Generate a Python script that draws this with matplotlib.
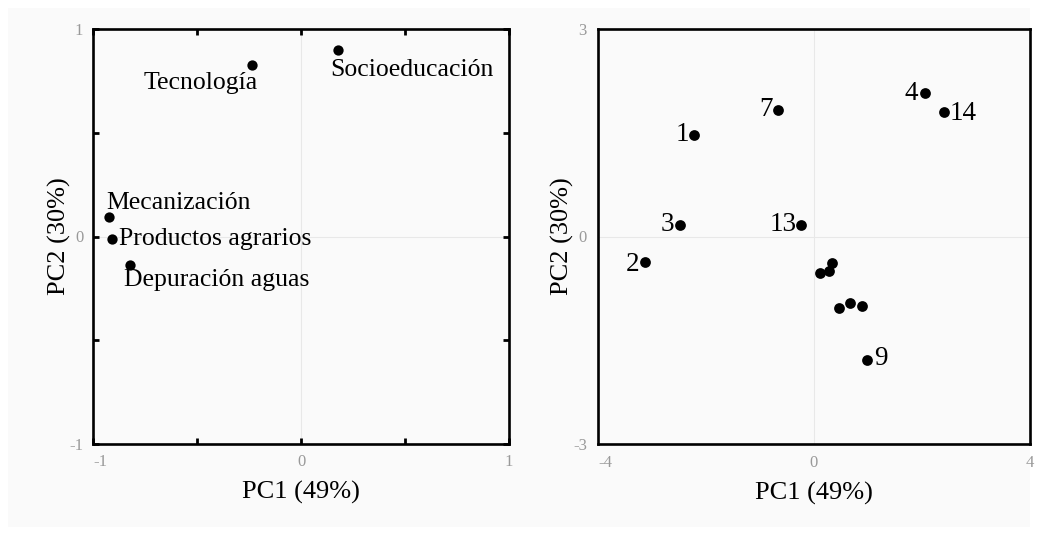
import matplotlib
matplotlib.use("Agg")
import matplotlib.pyplot as plt
from matplotlib.patches import Rectangle

# ---- Data ----
var_names = ["Tecnología", "Socioeducación", "Mecanización", "Productos agrarios", "Depuración aguas"]
var_pc1 = [-0.236, 0.178, -0.923, -0.909, -0.822]
var_pc2 = [0.827, 0.899, 0.094, -0.012, -0.137]

obs_labels = ["1", "2", "3", "4", "", "", "7", "", "9", "", "", "", "13", "14"]
obs_pc1 = [-2.22, -3.13, -2.48, 2.06, 0.11, 0.28, -0.67, 0.33, 0.98, 0.46, 0.67, 0.89, -0.24, 2.41]
obs_pc2 = [1.47, -0.37, 0.17, 2.07, -0.53, -0.50, 1.83, -0.38, -1.79, -1.03, -0.96, -1.00, 0.17, 1.80]

left_ticks = [-1, -0.5, 0, 0.5, 1]
left_ticklabels = ["-1", "", "0", "", "1"]
right_xticks = [-4, 0, 4]
right_xticklabels = ["-4", "0", "4"]
right_yticks = [-3, 0, 3]
right_yticklabels = ["-3", "0", "3"]

xlabel = "PC1 (49%)"
ylabel = "PC2 (30%)"

# label offsets (pixels) and alignments
var_offsets = {
    "Tecnología": (6, -7, "right", "top"),
    "Socioeducación": (-8, -9, "left", "top"),
    "Mecanización": (-3, 3, "left", "bottom"),
    "Productos agrarios": (7, 0, "left", "center"),
    "Depuración aguas": (-6, -4, "left", "top"),
}
obs_offsets = {
    "1": (-5, 0, "right", "center"),
    "2": (-6, -2, "right", "center"),
    "3": (-6, 0, "right", "center"),
    "4": (-7, 0, "right", "center"),
    "7": (-5, 0, "right", "center"),
    "9": (7, 2, "left", "center"),
    "13": (-4, 0, "right", "center"),
    "14": (5, -1, "left", "center"),
}

serif = ["Liberation Serif", "DejaVu Serif"]
plt.rcParams["font.family"] = serif

fig = plt.figure(figsize=(10.38, 5.35), dpi=100, facecolor="white")
W, H = 1038, 535
fig.patches.append(Rectangle((8 / W, 8 / H), (1030 - 8) / W, (527 - 8) / H,
                             transform=fig.transFigure, facecolor="#fafafa",
                             edgecolor="none", zorder=-10))

ax1 = fig.add_axes([93 / W, 1 - 444 / H, 416 / W, 415 / H])
ax2 = fig.add_axes([598 / W, 1 - 444 / H, 432 / W, 415 / H])

for ax, lp in ((ax1, -1.5), (ax2, -0.5)):
    ax.set_facecolor("none")
    for s in ax.spines.values():
        s.set_linewidth(1.9)
        s.set_color("black")
    ax.axhline(0, color="#e8e8e8", lw=0.8, zorder=0)
    ax.axvline(0, color="#e8e8e8", lw=0.8, zorder=0)
    ax.set_xlabel(xlabel, fontsize=19, labelpad=8)
    ax.set_ylabel(ylabel, fontsize=19, labelpad=lp)

# Left panel: variables
ax1.set_xlim(-1, 1)
ax1.set_ylim(-1, 1)
ax1.set_xticks(left_ticks)
ax1.set_xticklabels(left_ticklabels)
ax1.set_yticks(left_ticks)
ax1.set_yticklabels(left_ticklabels)
ax1.tick_params(direction="in", length=4, width=2, top=True, right=True,
                labelsize=12, labelcolor="#999999", pad=7)
ax1.scatter(var_pc1, var_pc2, s=55, color="black", zorder=3, linewidths=0)
for name, x, y in zip(var_names, var_pc1, var_pc2):
    dx, dy, ha, va = var_offsets[name]
    ax1.annotate(name, (x, y), xytext=(dx, dy), textcoords="offset pixels",
                 ha=ha, va=va, fontsize=18.5)

# Right panel: observations
ax2.set_xlim(-4, 4)
ax2.set_ylim(-3, 3)
ax2.set_xticks(right_xticks)
ax2.set_xticklabels(right_xticklabels)
ax2.set_yticks(right_yticks)
ax2.set_yticklabels(right_yticklabels)
ax2.tick_params(length=0, labelsize=12, labelcolor="#999999", pad=8)
ax2.scatter(obs_pc1, obs_pc2, s=60, color="black", zorder=3, linewidths=0)
for lab, x, y in zip(obs_labels, obs_pc1, obs_pc2):
    if not lab:
        continue
    dx, dy, ha, va = obs_offsets[lab]
    ax2.annotate(lab, (x, y), xytext=(dx, dy), textcoords="offset pixels",
                 ha=ha, va=va, fontsize=19.5)

for ax in (ax1, ax2):
    ax.get_xticklabels()[0].set_horizontalalignment("left")

fig.savefig("out.png", dpi=100, facecolor=fig.get_facecolor())
